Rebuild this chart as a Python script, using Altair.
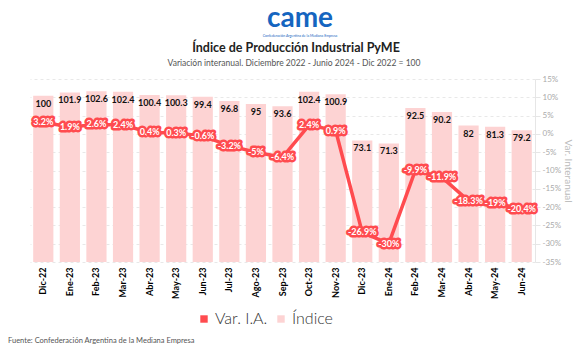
import altair as alt
import pandas as pd

meses = ["Dic-22", "Ene-23", "Feb-23", "Mar-23", "Abr-23", "May-23", "Jun-23", "Jul-23",
         "Ago-23", "Sep-23", "Oct-23", "Nov-23", "Dic-23", "Ene-24", "Feb-24", "Mar-24",
         "Abr-24", "May-24", "Jun-24"]
indice = [100, 101.9, 102.6, 102.4, 100.4, 100.3, 99.4, 96.8, 95, 93.6, 102.4, 100.9,
          73.1, 71.3, 92.5, 90.2, 82, 81.3, 79.2]
var_ia = [3.2, 1.9, 2.6, 2.4, 0.4, 0.3, -0.6, -3.2, -5, -6.4, 2.4, 0.9,
          -26.9, -30, -9.9, -11.9, -18.3, -19, -20.4]
series = ["Var. I.A.", "Índice"]
titulo = "Índice de Producción Industrial PyME"
subtitulo = "Variación interanual. Diciembre 2022 - Junio 2024 - Dic 2022 = 100"
fuente = "Fuente: Confederación Argentina de la Mediana Empresa"

RED = "#ff4b4f"
PINK = "#fdd3d3"

df = pd.DataFrame({"mes": meses, "indice": indice, "var": var_ia})
df["var_lbl"] = [f"{v:g}%" for v in var_ia]
df["ind_lbl"] = [f"{v:g}" for v in indice]

x = alt.X("mes:N", sort=meses,
          scale=alt.Scale(paddingInner=0.24, paddingOuter=0.12),
          axis=alt.Axis(title=None, labelAngle=-90, labelFontWeight="bold", labelFontSize=9,
                        labelColor="#000", labelFont="Lato", domain=False, ticks=False,
                        labelPadding=5))

color_scale = alt.Scale(domain=series, range=[RED, PINK])

base = alt.Chart(df)

bars = base.mark_bar(color=PINK).encode(
    x=x,
    y=alt.Y("indice:Q", scale=alt.Scale(domain=[0, 110]), axis=None),
)

bar_text = base.mark_text(baseline="top", dy=4, fontSize=9, fontWeight="bold",
                          font="Lato", color="#111").encode(
    x=x, y=alt.Y("indice:Q", scale=alt.Scale(domain=[0, 110]), axis=None),
    text="ind_lbl:N")

ys = alt.Y("var:Q", scale=alt.Scale(domain=[-35, 15]),
           axis=alt.Axis(orient="right", values=list(range(-35, 20, 5)),
                         labelExpr="datum.value + '%'", title="Var. Interanual",
                         titleColor="#bbb", titleFontWeight="normal", titleFontSize=10,
                         titleFont="Lato", labelColor="#aaa", labelFontSize=8,
                         labelFont="Lato", domainColor="#e6e6e6", tickColor="#e6e6e6",
                         tickSize=5, grid=True, gridColor="#e8e8e8", gridDash=[3, 3],
                         titlePadding=2))

line = base.mark_line(strokeWidth=3.5, color=RED).encode(x=x, y=ys)

lbl_bg = base.mark_text(fontSize=9, fontWeight="bold", font="Lato", color=RED,
                        stroke=RED, strokeWidth=5, strokeJoin="round").encode(
    x=x, y=ys, text="var_lbl:N")
lbl_fg = base.mark_text(fontSize=9, fontWeight="bold", font="Lato", color="white").encode(
    x=x, y=ys, text="var_lbl:N")

legend_layer = alt.Chart(pd.DataFrame({"s": series})).mark_square(opacity=0).encode(
    x=alt.value(0), y=alt.value(0),
    color=alt.Color("s:N", scale=color_scale,
                    legend=alt.Legend(title=None, orient="none", legendX=166, legendY=232,
                                      direction="horizontal", labelFontSize=16,
                                      labelFont="Lato", labelFontWeight=300,
                                      labelColor="#333",
                                      symbolType="square", symbolSize=55,
                                      symbolOpacity=1, symbolStrokeWidth=0,
                                      columnPadding=5, labelOffset=3)),
)


def txt(s, **kw):
    return alt.Chart(pd.DataFrame({"t": [s]})).mark_text(**kw)


logo = txt("came", fontSize=28, fontWeight="bold", font="Lato", color="#1565c0").encode(
    x=alt.value(270), y=alt.value(-60), text="t:N")
logo_sub = txt("Confederación Argentina de la Mediana Empresa", fontSize=3.5, font="Lato",
               color="#1565c0").encode(x=alt.value(270), y=alt.value(-43), text="t:N")
title = txt(titulo, fontSize=12.5, fontWeight="bold", font="Lato", color="#222").encode(
    x=alt.value(266), y=alt.value(-31), text="t:N")
subtitle = txt(subtitulo, fontSize=8.5, font="Lato", color="#555").encode(
    x=alt.value(264), y=alt.value(-16), text="t:N")
footer = txt(fuente, fontSize=7.5, font="Lato", color="#555", align="left").encode(
    x=alt.value(-22), y=alt.value(262), text="t:N")

chart = alt.layer(
    alt.layer(bars, bar_text),
    alt.layer(line, lbl_bg, lbl_fg),
    legend_layer, logo, logo_sub, title, subtitle, footer,
).resolve_scale(y="independent").properties(
    width=505, height=183,
    autosize=alt.AutoSizeParams(type="none"),
    padding={"left": 30, "top": 79, "right": 52, "bottom": 94},
    background="white",
).configure_view(stroke=None)

chart.save("out.html", embed_options={"renderer": "svg", "actions": False})
